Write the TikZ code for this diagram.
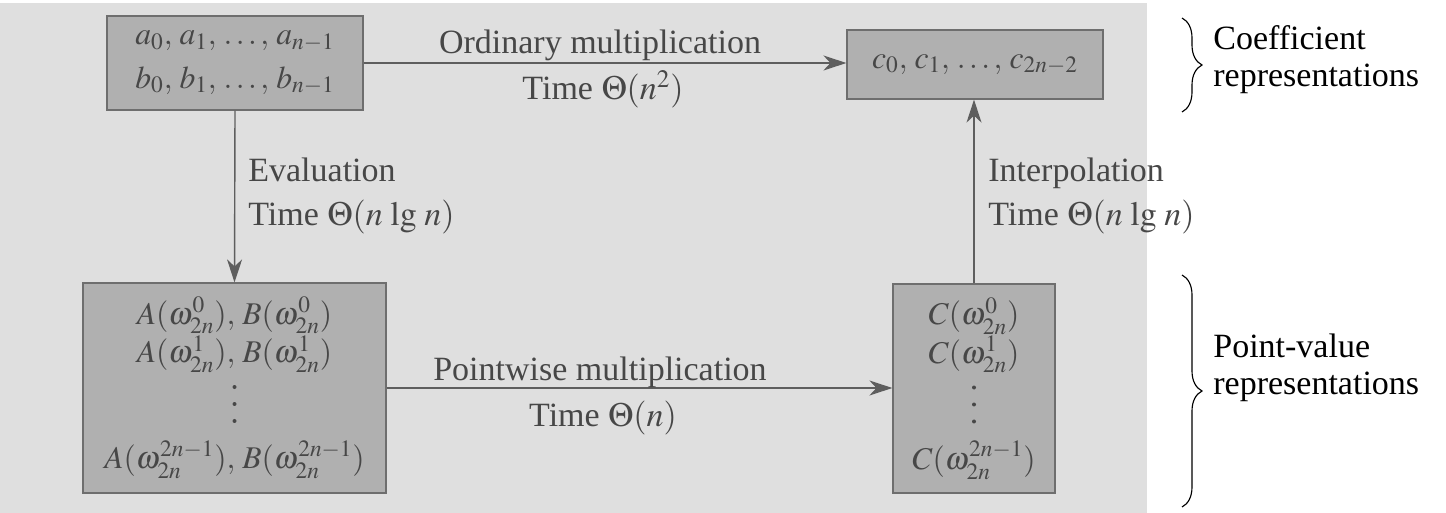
\documentclass[tikz,border=0pt]{standalone}
\usepackage{mathptmx}
\usepackage[no-math]{fontspec}
\setmainfont{Liberation Serif}
\usetikzlibrary{arrows.meta,decorations.pathreplacing}
\definecolor{stip}{HTML}{DFDFDF}
\definecolor{boxfill}{HTML}{B0B0B0}
\definecolor{boxline}{HTML}{6E6E6E}
\definecolor{ink}{HTML}{474747}
\definecolor{wire}{HTML}{5E5E5E}
\lineskiplimit=-100pt
\tikzset{
  fontA/.style={font=\fontsize{18}{24.5}\selectfont},
  fontB/.style={font=\fontsize{18}{22}\selectfont},
  fontL/.style={font=\fontsize{19.35}{20.5}\selectfont},
  fontC/.style={font=\fontsize{19.35}{21}\selectfont},
  bx/.style={draw=boxline, line width=0.7pt, fill=boxfill, text=ink, inner sep=0pt, align=center},
  lbl/.style={text=ink, inner sep=0pt, fontL},
  dot/.style={fill=ink},
  arr/.style={draw=wire, line width=0.8pt, -{Stealth[length=0.46cm,width=0.3cm,inset=0.14cm]}},
  brc/.style={draw=black, line width=0.65pt, decorate, decoration={brace, amplitude=0.4cm}},
  side/.style={text=black, inner sep=0pt, align=left, anchor=west, fontC}
}
\begin{document}
\begin{tikzpicture}[x=0.02cm, y=-0.02cm]
\useasboundingbox (0,0) rectangle (1446,513);
\fill[stip] (0,3) rectangle (1147,513);

% boxes
\node[bx, fontA, minimum width=5.12cm, minimum height=1.88cm] (ab) at (235,63)
  {$a_0,\, a_1,\, \ldots,\, a_{n-1}$\\ $b_0,\, b_1,\, \ldots,\, b_{n-1}$};
\node[bx, fontA, minimum width=5.12cm, minimum height=1.38cm] (c) at (975,64.5)
  {$c_0,\, c_1,\, \ldots,\, c_{2n-2}$};
\node[bx, fontB, minimum width=6.06cm, minimum height=4.2cm] (pv) at (234.5,388)
  {$A(\omega_{2n}^0),\, B(\omega_{2n}^0)$\\
   $A(\omega_{2n}^1),\, B(\omega_{2n}^1)$\\[38.4pt]
   $A(\omega_{2n}^{2n-1}),\, B(\omega_{2n}^{2n-1})$};
\node[bx, fontB, minimum width=3.24cm, minimum height=4.18cm] (cv) at (974,388.5)
  {$C(\omega_{2n}^0)$\\
   $C(\omega_{2n}^1)$\\[38.4pt]
   $C(\omega_{2n}^{2n-1})$};

% vertical ellipses inside the point-value boxes
\foreach \b in {pv,cv} {
  \fill[dot] ([yshift=0.02cm]\b.center) circle (0.04cm);
  \fill[dot] ([yshift=-0.32cm]\b.center) circle (0.04cm);
  \fill[dot] ([yshift=-0.66cm]\b.center) circle (0.04cm);
}

% connectors
\draw[arr] (ab.east) -- (ab.east -| c.west);
\draw[arr] (ab.south) -- (pv.north);
\draw[arr] (pv.east) -- (pv.east -| cv.west);
\draw[arr] (cv.north) -- (cv.north |- c.south);

% labels
\node[lbl, anchor=base] (ordl) at (600,54) {Ordinary multiplication};
\node[lbl, anchor=base] (ordt) at (603,100) {Time $\Theta(n^2)$};
\node[lbl, anchor=base west] (evl) at (248,182) {Evaluation};
\node[lbl, anchor=base west] (evt) at (248,226) {Time $\Theta(n\,\lg\,n)$};
\node[lbl, anchor=base west] (inl) at (988,182) {Interpolation};
\node[lbl, anchor=base west] (int) at (988,226) {Time $\Theta(n\,\lg\,n)$};
\node[lbl, anchor=base] (pwl) at (600,380) {Pointwise multiplication};
\node[lbl, anchor=base] (pwt) at (603,426) {Time $\Theta(n)$};

% braces and side texts
\coordinate (b1t) at (1182,18);
\coordinate (b1b) at (1182,112);
\coordinate (b2t) at (1182,275);
\coordinate (b2b) at (1182,507);
\draw[brc] (b1t) -- (b1b);
\draw[brc] (b2t) -- (b2b);
\node[side] (coef) at (1213,60) {Coefficient\\representations};
\node[side] (ptv) at (1213,368) {Point-value\\representations};
\end{tikzpicture}
\end{document}
